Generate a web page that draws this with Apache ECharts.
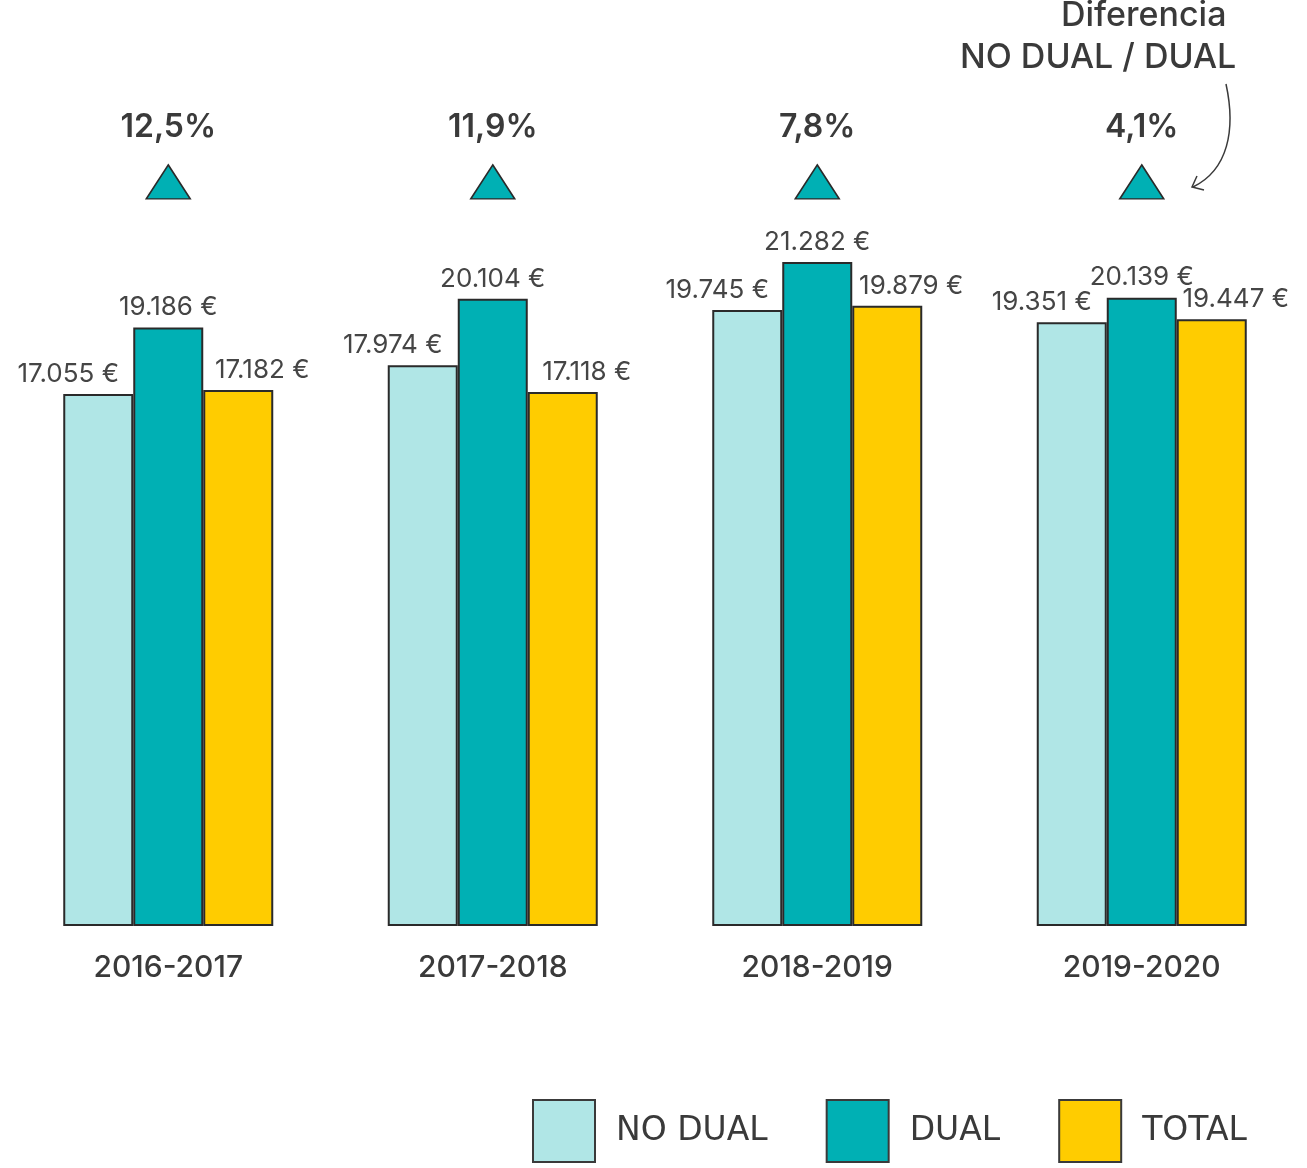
<!DOCTYPE html>
<html>
<head>
<meta charset="utf-8">
<script src="https://cdn.jsdelivr.net/npm/echarts@6/dist/echarts.min.js"></script>
<style>
html,body{margin:0;padding:0;background:#fff;}
#chart{width:1307px;height:1168px;}
</style>
</head>
<body>
<div id="chart"></div>
<script>
const categories = ['2016-2017', '2017-2018', '2018-2019', '2019-2020'];
const noDual = [17055, 17974, 19745, 19351];
const dual = [19186, 20104, 21282, 20139];
const total = [17182, 17118, 19879, 19447];
const diffLabels = ['12,5%', '11,9%', '7,8%', '4,1%'];
const seriesNames = ['NO DUAL', 'DUAL', 'TOTAL'];
const colors = ['#b0e6e6', '#00b0b4', '#ffcc00'];
const markerLevel = 23850;

const FONT = 'Inter, "Noto Sans", sans-serif';
const fmt = v => String(v).replace(/\B(?=(\d{3})+(?!\d))/g, '.') + ' €';

const chart = echarts.init(document.getElementById('chart'));

function barSeries(name, data, color, offsetX) {
  return {
    name: name,
    type: 'bar',
    data: data,
    barWidth: 70,
    barGap: '0%',
    itemStyle: { color: color, borderColor: '#2a2a2a', borderWidth: 2 },
    label: {
      show: true,
      position: 'top',
      distance: 7,
      offset: [offsetX, 0],
      formatter: p => fmt(p.value),
      fontFamily: FONT,
      fontSize: 26,
      color: '#454545'
    }
  };
}

chart.setOption({
  animation: false,
  backgroundColor: '#fff',
  grid: { left: 6, right: 3, top: 146, bottom: 242 },
  xAxis: {
    type: 'category',
    data: categories,
    axisLine: { show: false },
    axisTick: { show: false },
    axisLabel: {
      margin: 27,
      fontFamily: FONT,
      fontSize: 30,
      fontWeight: 500,
      color: '#3a3a3a'
    }
  },
  yAxis: {
    type: 'value',
    min: 0,
    max: 25000,
    show: false,
    splitLine: { show: false }
  },
  legend: {
    left: 527,
    top: 1094,
    itemWidth: 62,
    itemHeight: 62,
    itemGap: 58,
    icon: 'rect',
    data: seriesNames,
    itemStyle: { borderColor: '#3a3a3a', borderWidth: 2 },
    textStyle: {
      fontFamily: '"DejaVu Sans", sans-serif',
      fontSize: 33,
      color: '#3a3a3a',
      padding: [10, 0, 0, 16]
    }
  },
  series: [
    barSeries(seriesNames[0], noDual, colors[0], -30),
    barSeries(seriesNames[1], dual, colors[1], 0),
    barSeries(seriesNames[2], total, colors[2], 24),
    {
      type: 'scatter',
      data: diffLabels.map(() => markerLevel),
      symbol: 'triangle',
      symbolSize: [44, 34],
      itemStyle: { color: '#00b0b4', borderColor: '#2a2a2a', borderWidth: 1.5, opacity: 1 },
      emphasis: { disabled: true },
      label: {
        show: true,
        position: 'top',
        distance: 21,
        formatter: p => diffLabels[p.dataIndex],
        fontFamily: FONT,
        fontSize: 32,
        fontWeight: 600,
        color: '#3a3a3a'
      },
      z: 5
    }
  ],
  graphic: [
    {
      type: 'text', x: 1061, y: -1,
      style: { text: 'Diferencia', fontFamily: FONT, fontSize: 34, fontWeight: 500, fill: '#3a3a3a' }
    },
    {
      type: 'text', x: 960, y: 41,
      style: { text: 'NO DUAL / DUAL', fontFamily: FONT, fontSize: 34, fontWeight: 500, fill: '#3a3a3a' }
    },
    {
      type: 'bezierCurve',
      shape: { x1: 1226, y1: 84, x2: 1193, y2: 187, cpx1: 1236, cpy1: 130, cpx2: 1228, cpy2: 170 },
      style: { fill: null, stroke: '#3a3a3a', lineWidth: 1.5 }
    },
    {
      type: 'polyline',
      shape: { points: [[1197, 176], [1192, 187], [1204, 190]] },
      style: { fill: null, stroke: '#3a3a3a', lineWidth: 1.5 }
    }
  ]
});
</script>
</body>
</html>
